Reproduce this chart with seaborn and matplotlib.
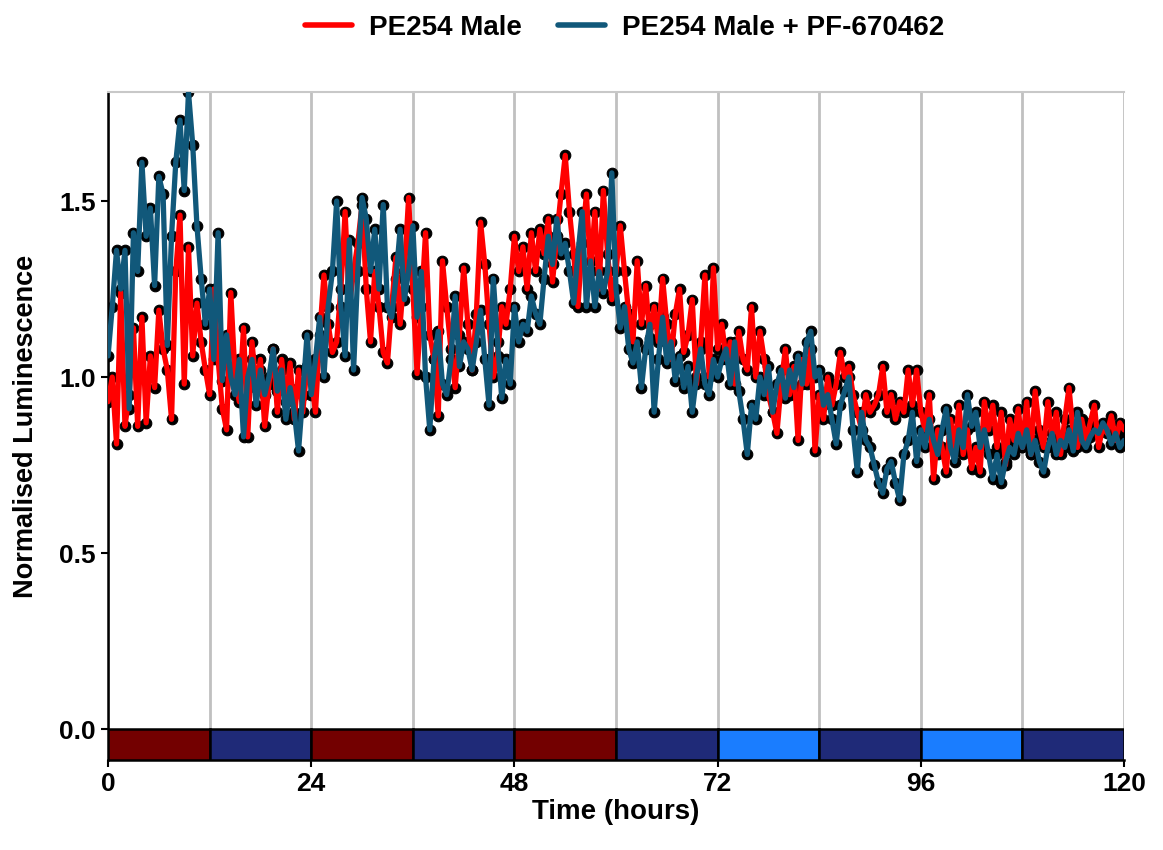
import numpy as np
import pandas as pd
import matplotlib
matplotlib.use("Agg")
import matplotlib.pyplot as plt
import seaborn as sns
from matplotlib.lines import Line2D

# ---------------- data ----------------
series_names = ["PE254 Male", "PE254 Male + PF-670462"]
series_colors = ["#ff0000", "#11587a"]

time_h = np.arange(0, 120.5, 0.5)

red_vals = (
    [0.93, 1.0, 0.81, 1.24, 0.86, 0.95, 1.14, 0.86, 1.17, 0.87, 1.06, 0.97,
     1.19, 1.08, 1.02, 0.88, 1.3, 1.46, 0.98, 1.37, 1.06, 1.21, 1.1, 1.02]
    + [0.95, 1.25, 1.05, 0.91, 0.85, 1.24, 1.0, 0.93, 1.14, 0.83, 1.1, 0.97,
       1.05, 0.86, 0.98, 1.08, 0.9, 1.05, 0.93, 1.04, 0.88, 1.02, 0.9, 1.03]
    + [1.0, 0.9, 1.12, 1.29, 1.15, 1.07, 1.1, 1.25, 1.47, 1.2, 1.3, 1.38,
       1.49, 1.25, 1.1, 1.3, 1.2, 1.07, 1.04, 1.2, 1.34, 1.15, 1.3, 1.51]
    + [1.25, 1.01, 1.2, 1.41, 1.12, 1.05, 0.89, 1.33, 1.2, 1.08, 0.97, 1.12,
       1.31, 1.15, 1.02, 1.18, 1.44, 1.32, 1.15, 1.0, 1.06, 1.2, 1.15, 1.25]
    + [1.40, 1.3, 1.37, 1.25, 1.41, 1.3, 1.42, 1.35, 1.45, 1.27, 1.4, 1.52,
       1.63, 1.47, 1.35, 1.2, 1.38, 1.52, 1.3, 1.47, 1.25, 1.53, 1.35, 1.22]
    + [1.3, 1.43, 1.3, 1.18, 1.1, 1.33, 1.15, 1.26, 1.11, 1.2, 1.1, 1.28,
       1.15, 1.05, 1.18, 1.25, 1.07, 1.12, 1.22, 0.98, 1.1, 1.29, 1.0, 1.31]
    + [1.08, 1.15, 1.05, 1.1, 0.98, 1.13, 1.05, 1.02, 1.2, 1.0, 1.13, 1.05,
       0.95, 0.9, 0.84, 0.98, 1.08, 0.95, 1.03, 0.82, 1.05, 0.98, 1.08, 0.79]
    + [0.95, 0.88, 1.0, 0.92, 0.98, 1.07, 1.0, 1.03, 0.95, 0.9, 0.85, 0.95,
       0.9, 0.92, 0.95, 1.03, 0.9, 0.95, 0.88, 0.93, 0.9, 1.02, 0.92, 1.02]
    + [0.9, 0.85, 0.95, 0.71, 0.85, 0.8, 0.73, 0.88, 0.8, 0.92, 0.78, 0.85,
       0.74, 0.8, 0.73, 0.93, 0.85, 0.92, 0.8, 0.9, 0.75, 0.88, 0.82, 0.91]
    + [0.8, 0.93, 0.78, 0.96, 0.85, 0.8, 0.93, 0.82, 0.9, 0.78, 0.88, 0.97,
       0.84, 0.8, 0.88, 0.82, 0.87, 0.92, 0.8, 0.86, 0.84, 0.89, 0.82, 0.87,
       0.85]
)

blue_vals = (
    [1.06, 1.2, 1.36, 1.25, 1.36, 0.91, 1.41, 1.3, 1.61, 1.40, 1.48, 1.26,
     1.57, 1.52, 1.09, 1.4, 1.61, 1.73, 1.53, 1.81, 1.66, 1.43, 1.28, 1.15]
    + [1.25, 1.05, 1.41, 0.99, 1.12, 1.0, 0.95, 1.05, 0.83, 1.0, 1.05, 0.92,
       1.02, 0.95, 1.0, 1.08, 0.96, 1.02, 0.88, 0.97, 0.9, 0.79, 0.95, 1.12]
    + [0.95, 1.05, 1.17, 1.0, 1.2, 1.3, 1.50, 1.2, 1.06, 1.39, 1.02, 1.3,
       1.51, 1.45, 1.3, 1.42, 1.25, 1.49, 1.2, 1.17, 1.28, 1.42, 1.22, 1.3]
    + [1.43, 1.17, 1.3, 1.0, 0.85, 1.05, 1.13, 0.98, 0.95, 1.05, 1.23, 1.03,
       1.1, 1.08, 1.02, 1.1, 1.19, 1.05, 0.92, 1.28, 1.1, 0.94, 1.05, 0.98]
    + [1.2, 1.1, 1.15, 1.13, 1.23, 1.18, 1.15, 1.28, 1.40, 1.32, 1.45, 1.35,
       1.38, 1.3, 1.21, 1.35, 1.47, 1.2, 1.33, 1.2, 1.3, 1.24, 1.3, 1.58]
    + [1.25, 1.14, 1.2, 1.08, 1.04, 1.1, 0.97, 1.08, 1.15, 0.9, 1.05, 1.17,
       1.04, 1.1, 0.99, 1.06, 0.97, 1.03, 0.9, 1.0, 1.08, 0.98, 0.95, 1.05]
    + [1.0, 1.05, 1.08, 0.98, 1.1, 0.96, 0.88, 0.78, 0.92, 0.88, 1.0, 0.95,
       1.03, 0.9, 0.98, 1.02, 0.94, 1.02, 0.97, 1.06, 0.98, 1.1, 1.13, 1.0]
    + [1.02, 0.92, 0.95, 0.88, 0.81, 0.92, 0.96, 1.0, 0.85, 0.73, 0.9, 0.82,
       0.8, 0.75, 0.7, 0.67, 0.74, 0.76, 0.7, 0.65, 0.78, 0.82, 0.9, 0.76]
    + [0.85, 0.8, 0.88, 0.82, 0.78, 0.85, 0.91, 0.8, 0.76, 0.85, 0.8, 0.95,
       0.86, 0.9, 0.8, 0.85, 0.78, 0.71, 0.78, 0.7, 0.76, 0.8, 0.78, 0.84]
    + [0.8, 0.85, 0.78, 0.82, 0.76, 0.73, 0.8, 0.84, 0.78, 0.82, 0.8, 0.85,
       0.79, 0.9, 0.82, 0.8, 0.83, 0.85, 0.84, 0.87, 0.85, 0.81, 0.84, 0.8,
       0.82]
)

# light/dark bar underneath
ld_start = [0, 12, 24, 36, 48, 60, 72, 84, 96, 108]
ld_colors = ["#730000", "#1f2a78", "#730000", "#1f2a78", "#730000",
             "#1f2a78", "#1a7dff", "#1f2a78", "#1a7dff", "#1f2a78"]

x_ticks = [0, 24, 48, 72, 96, 120]
y_ticks = [0.0, 0.5, 1.0, 1.5]

assert len(red_vals) == len(time_h) == len(blue_vals)

df = pd.DataFrame({
    "Time": np.concatenate([time_h, time_h]),
    "Lum": np.concatenate([red_vals, blue_vals]),
    "Series": [series_names[0]] * len(time_h) + [series_names[1]] * len(time_h),
})

# ---------------- style ----------------
sns.set_theme(style="white")
plt.rcParams["font.family"] = ["Liberation Sans", "DejaVu Sans"]
plt.rcParams["font.weight"] = "bold"
plt.rcParams["text.color"] = "black"
plt.rcParams["axes.labelcolor"] = "black"
plt.rcParams["xtick.color"] = "black"
plt.rcParams["ytick.color"] = "black"

fig = plt.figure(figsize=(11.63, 8.5), dpi=100)
ax = fig.add_axes([0.0929, 0.1059, 0.8736, 0.7859])

# vertical grid lines
for xv in range(0, 121, 12):
    ax.axvline(xv, color="#c0c0c0", lw=2, zorder=0)

palette = dict(zip(series_names, series_colors))
for name in series_names:
    sub = df[df["Series"] == name]
    sns.scatterplot(data=sub, x="Time", y="Lum", color="black", s=58,
                    edgecolor="black", linewidth=0.8, ax=ax, zorder=2,
                    legend=False)
    sns.lineplot(data=sub, x="Time", y="Lum", color=palette[name],
                 linewidth=3.8, ax=ax, zorder=3, legend=False, sort=False)

# LD bar
ax.bar(ld_start, [-0.088] * len(ld_start), width=12, bottom=0, align="edge",
       color=ld_colors, edgecolor="black", linewidth=1.8, zorder=4)

ax.set_xlim(0, 120)
ax.set_ylim(-0.088, 1.81)
ax.set_xticks(x_ticks)
ax.set_yticks(y_ticks)
ax.set_yticklabels([f"{v:.1f}" for v in y_ticks])
ax.tick_params(axis="both", which="both", direction="out", length=5,
               width=1.5, color="black", labelcolor="black", labelsize=19,
               pad=4, bottom=True, left=True)
for lab in ax.get_xticklabels() + ax.get_yticklabels():
    lab.set_fontweight("bold")

ax.set_xlabel("Time (hours)", fontsize=20, fontweight="bold", labelpad=2,
              color="black")
ax.set_ylabel("Normalised Luminescence", fontsize=19.5, fontweight="bold",
              labelpad=14, color="black")

for side in ["left", "bottom"]:
    ax.spines[side].set_color("black")
    ax.spines[side].set_linewidth(1.8)
ax.spines["right"].set_visible(False)
ax.spines["top"].set_color("#c8c8c8")
ax.spines["top"].set_linewidth(1.5)

handles = [Line2D([0], [0], color=c, lw=4) for c in series_colors]
fig.legend(handles, series_names, loc="upper center", ncol=2,
           bbox_to_anchor=(0.537, 1.012), frameon=False,
           prop={"size": 20, "weight": "bold"}, handlelength=1.7,
           columnspacing=1.3, handletextpad=0.6, labelcolor="black")

fig.savefig("out.png", dpi=100)
